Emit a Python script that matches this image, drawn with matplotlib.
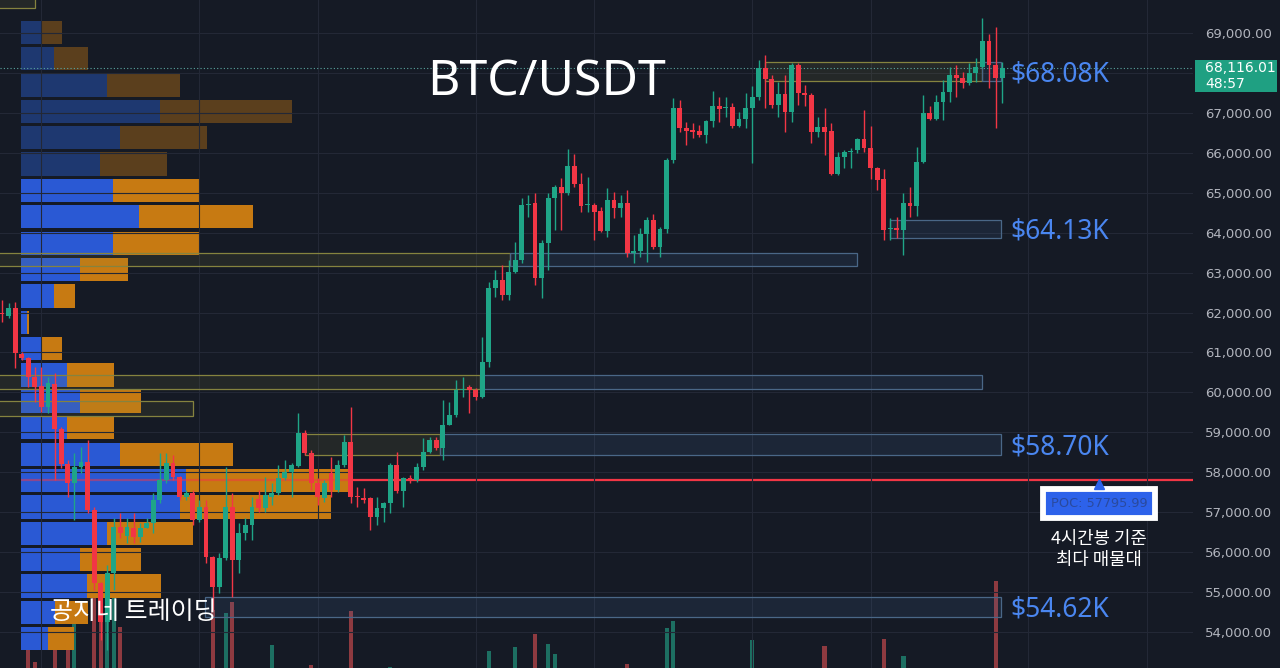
#!/usr/bin/env python
# BTC/USDT 4h candles + left volume profile, POC line and S/R zones (dark style)
import numpy as np, matplotlib; matplotlib.use("Agg")
import matplotlib.pyplot as plt
from matplotlib.patches import Rectangle

# ---- 4h candles ----
opens = [62000, 61910, 62110, 60960, 60860, 60390, 60160, 59640, 60210, 59080,
         58210, 57730, 58130, 58260, 57060, 55230, 54250, 55480, 56630, 56410,
         56610, 56380, 56610, 56730, 57310, 57810, 58230, 57880, 57380, 57480,
         56810, 57130, 55880, 55130, 55850, 57130, 55800, 56480, 56680, 57330,
         57110, 57380, 57480, 57860, 58010, 58160, 58980, 58480, 57730, 57360,
         57980, 57560, 58180, 58760, 57410, 57360, 57360, 56880, 57110, 57230,
         58180, 57530, 57860, 57810, 58130, 58510, 58810, 58610, 59180, 59440,
         60060, 60140, 60060, 59890, 60760, 62610, 62820, 62440, 63020, 63320,
         64690, 64740, 62870, 63740, 64870, 65140, 64990, 65670, 65220, 64690,
         64690, 64540, 64040, 64820, 64620, 64740, 63490, 63540, 63970, 64320,
         63640, 64090, 65820, 67120, 66620, 66570, 66550, 66450, 66800, 67170,
         67120, 67150, 66670, 66850, 67120, 67400, 68120, 67850, 67200, 67470,
         67020, 68200, 67500, 67450, 66520, 66650, 66550, 65470, 65900, 66020,
         66070, 66350, 66120, 65620, 65340, 64090, 64120, 64070, 64740, 64670,
         65770, 67000, 66850, 67270, 67520, 67950, 67870, 67750, 68000, 68150,
         68800, 68200, 67870]
highs = [62310, 62240, 62260, 61010, 60890, 60640, 60640, 60390, 60490, 59130,
         58310, 58480, 58630, 58810, 57130, 55250, 55680, 56860, 56980, 56860,
         56980, 56730, 56860, 57480, 58480, 58480, 58430, 57900, 57560, 57560,
         57310, 57310, 55900, 55980, 58130, 57480, 56730, 56860, 57380, 57560,
         57880, 57730, 58180, 58310, 58230, 59490, 59060, 58560, 57860, 57810,
         58380, 58310, 58930, 59640, 57630, 57610, 57380, 57380, 57250, 58230,
         58510, 57880, 57930, 58230, 58860, 58880, 58880, 59810, 59760, 60310,
         60390, 60190, 60110, 61390, 62770, 63070, 63190, 63320, 63770, 64870,
         64940, 64990, 63820, 64990, 65190, 65370, 66100, 65970, 65490, 65390,
         64740, 64640, 65120, 65020, 64940, 65070, 63940, 64120, 64390, 64470,
         64140, 65870, 67370, 67320, 66770, 66750, 66700, 66820, 67550, 67400,
         67400, 67250, 67020, 67500, 67670, 68320, 68450, 67950, 67770, 67950,
         68250, 68250, 67700, 67500, 66900, 67120, 66750, 66020, 66070, 66120,
         66370, 67070, 66670, 65640, 65590, 64370, 64390, 64990, 65140, 66150,
         67450, 67170, 67450, 67820, 68150, 68200, 68020, 68250, 68370, 69380,
         68980, 69150, 68270]
lows = [61760, 61860, 60610, 60810, 60140, 59760, 59510, 59490, 57810, 58110,
        57380, 56810, 57980, 56980, 55050, 53800, 53550, 55050, 56360, 56230,
        56230, 56260, 56600, 56480, 57230, 57730, 57810, 57310, 57310, 56680,
        56760, 55730, 54550, 54980, 55800, 54880, 55480, 56310, 56310, 57010,
        57000, 57180, 57430, 57810, 57380, 58130, 58430, 57560, 57180, 57260,
        57380, 57510, 58130, 57230, 57130, 57230, 56560, 56680, 56760, 56980,
        57480, 57130, 57730, 57760, 58060, 58480, 58560, 58310, 59180, 59390,
        59890, 59490, 59810, 59860, 60640, 62390, 62310, 62310, 62990, 63240,
        64390, 62690, 62360, 63070, 64070, 64070, 64940, 65140, 64520, 64520,
        63820, 64020, 63890, 64370, 64390, 63390, 63240, 63390, 63270, 63590,
        63390, 63990, 65750, 66520, 66200, 66370, 66400, 66250, 66650, 66770,
        66900, 66620, 66650, 66620, 65750, 67320, 67120, 67120, 66900, 66520,
        66770, 67200, 67170, 66250, 66400, 65950, 65440, 65440, 65620, 65620,
        66000, 66020, 65350, 65070, 63820, 63820, 63870, 63440, 64390, 64420,
        65750, 66820, 66820, 66820, 67270, 67400, 67620, 67700, 67770, 68120,
        67620, 66620, 67250]
closes = [61960, 62110, 60990, 60860, 60390, 60140, 59640, 60240, 59080, 58210,
          57730, 58130, 58260, 57060, 55230, 54250, 55480, 56630, 56480, 56630,
          56380, 56610, 56730, 57310, 57810, 58230, 57880, 57380, 57480, 56810,
          57130, 55880, 55130, 55850, 57130, 55800, 56480, 56680, 57130, 57110,
          57430, 57480, 57860, 58010, 58180, 58980, 58480, 57730, 57380, 57730,
          57560, 58180, 58760, 57380, 57380, 57310, 56880, 57110, 57230, 58180,
          57530, 57860, 57810, 58130, 58510, 58810, 58610, 59180, 59440, 60060,
          60090, 60060, 59890, 60760, 62610, 62820, 62440, 63020, 63320, 64690,
          64720, 62870, 63740, 64870, 65140, 64990, 65670, 65220, 64670, 64700,
          64520, 64040, 64820, 64620, 64740, 63490, 63540, 63970, 64320, 63640,
          64090, 65820, 67120, 66620, 66550, 66520, 66450, 66800, 67170, 67100,
          67130, 66670, 66850, 67120, 67400, 68120, 67850, 67200, 67470, 67020,
          68200, 67500, 67450, 66520, 66650, 66520, 65470, 65900, 66020, 66030,
          66350, 66120, 65620, 65320, 64070, 64120, 64070, 64740, 64670, 65770,
          67000, 66850, 67270, 67520, 67950, 67870, 67750, 68000, 68150, 68800,
          68200, 67870, 68116.01]
last_price = 68116.01
countdown = "48:57"

# volume bars tall enough to show at the bottom edge (candle index, height)
vol_idx = [4, 5, 8, 10, 11, 14, 15, 16, 17, 18, 32, 34, 35, 41, 47, 53, 59, 74,
           78, 81, 83, 84, 95, 101, 102, 114, 125, 134, 137, 151]
vol_val = [55, 38, 60, 55, 80, 130, 120, 115, 110, 73, 90, 87, 98, 55, 35, 89, 33, 49,
           53, 66, 56, 46, 36, 72, 79, 60, 54, 61, 44, 119]

# volume profile on the left, rows from the top down
prof_top, prof_step = 69351, 660.5
prof_buy = [20, 33, 86, 139, 99, 79, 92, 118, 92, 59, 33, 6,
            20, 46, 59, 46, 99, 165, 159, 86, 59, 66, 34, 27]
prof_sell = [21, 34, 73, 132, 87, 67, 87, 114, 87, 48, 21, 2,
             21, 47, 61, 47, 113, 165, 151, 86, 61, 74, 33, 26]
prof_in_va = [False] * 6 + [True] * 18
poc = 57795.99

# zones: start / end candle index, low / high price, kind
zone_start = [-1, -1, 77.2, 116.0, 149.0, 135.0, -1, 72.6, -1, 46.0, 66.6, 30.9]
zone_end = [5.0, 77.2, 129.9, 149.0, 151.8, 151.8, 72.6, 149.0, 29.0, 66.6, 151.8, 151.8]
zone_low = [69620, 63165, 63165, 67798, 67798, 63867, 60085, 60085, 59410, 58433, 58433, 54377]
zone_high = [69950, 63491, 63491, 68274, 68274, 64317, 60436, 60436, 59785, 58959, 58959, 54877]
zone_kind = ["o", "o", "b", "o", "b", "b", "o", "b", "o", "o", "b", "b"]

level_prices = [67960, 64020, 58620, 54550]
level_texts = ["$68.08K", "$64.13K", "$58.70K", "$54.62K"]

price_ticks = [53000, 54000, 55000, 56000, 57000, 58000, 59000, 60000, 61000,
               62000, 63000, 64000, 65000, 66000, 67000, 68000, 69000]
vgrid_idx = [6, 30, 48, 72, 90, 114, 132, 156, 174]

BG = "#151a25"; UP = "#1fa587"; DN = "#f23645"
KR = ["Noto Sans CJK KR", "DejaVu Sans"]
fig = plt.figure(figsize=(12.8, 6.68), dpi=100, facecolor=BG)
rect = [0, -32 / 668, 1193 / 1280, 700 / 668]
XLIM = (-0.3, 181.0); YLIM = (52296, 69826)

o = np.array(opens, float); c = np.array(closes, float)
up = c >= o

# volume (bottom layer)
axv = fig.add_axes(rect, zorder=0); axv.set_axis_off()
axv.bar(vol_idx, vol_val, width=0.62,
        color=["#1d6f62" if up[i] else "#8e3a40" for i in vol_idx])
axv.set_xlim(XLIM); axv.set_ylim(0, 700)

# volume profile
axp = fig.add_axes(rect, zorder=1); axp.set_axis_off()
mids = prof_top - prof_step * (np.arange(len(prof_buy)) + 0.5)
axp.barh(mids, prof_buy, height=prof_step * 0.88,
         color=["#2a59d4" if v else "#1e3870" for v in prof_in_va])
axp.barh(mids, prof_sell, left=prof_buy, height=prof_step * 0.88,
         color=["#c77a12" if v else "#5b3f1d" for v in prof_in_va])
axp.set_xlim(-21, 1172); axp.set_ylim(YLIM)
pend = max(b + s for b, s in zip(prof_buy, prof_sell))
axp.hlines(poc, 0, pend, color=DN, lw=1.6, alpha=0.5)
axp.hlines(poc, pend, 1172, color=DN, lw=1.6)

# main price axes
ax = fig.add_axes(rect, zorder=2); ax.set_facecolor("none")
ax.set_xlim(XLIM); ax.set_ylim(YLIM)
for s in ax.spines.values(): s.set_visible(False)
ax.set_yticks(price_ticks)
# the 68,000 label sits under the live price tag
ax.set_yticklabels(["" if abs(p - last_price) < 500 else f"{p:,.2f}" for p in price_ticks])
ax.yaxis.tick_right()
ax.tick_params(axis="y", length=0, pad=8.6, labelsize=9.5, labelcolor="#b2b5be")
ax.set_xticks(vgrid_idx); ax.tick_params(axis="x", length=0, labelbottom=False)
ax.grid(True, color="#232836", lw=0.8); ax.set_axisbelow(True)

zst = {"o": ((0.55, 0.55, 0.25, 0.13), "#85833f"), "b": ((0.30, 0.45, 0.65, 0.14), "#4a6787")}
for s, e, lo, hi, k in zip(zone_start, zone_end, zone_low, zone_high, zone_kind):
    ax.add_patch(Rectangle((s, lo), e - s, hi - lo, facecolor=zst[k][0],
                           edgecolor=zst[k][1], lw=0.9, zorder=1.5))

idx = np.arange(len(opens)); col = np.where(up, UP, DN)
ax.vlines(idx, lows, highs, colors=col, lw=1.0, zorder=3)
ax.bar(idx, np.maximum(np.abs(c - o), 30), bottom=np.minimum(o, c), width=0.74,
       color=col, zorder=4)
ax.axhline(last_price, color="#5aa7a0", lw=0.8, ls=(0, (1, 2)), zorder=2)

for p, t in zip(level_prices, level_texts):
    ax.text(153.2, p, t, color="#4a86f0", fontsize=19, family="Noto Sans",
            va="center", ha="left", zorder=6)

# POC tag
px = 166.7
ax.annotate(f"POC: {poc:.2f}", (px, poc), xytext=(0, -16.8), textcoords="offset points",
            ha="center", va="center", fontsize=9.3, color="#2a4a9e", zorder=8,
            bbox=dict(boxstyle="square,pad=0.62", fc="#2d62ea", ec="white", lw=4.2))
ax.plot([px], [poc - 100], marker="^", ms=7, color="#2d62ea", zorder=9)
ax.annotate("4시간봉 기준", (px, poc), xytext=(0, -42.5), textcoords="offset points",
            ha="center", va="center", fontsize=12.8, color="white", family=KR, zorder=8)
ax.annotate("최다 매물대", (px, poc), xytext=(0, -57), textcoords="offset points",
            ha="center", va="center", fontsize=12.8, color="white", family=KR, zorder=8)

# current price tag on the axis
fig.add_artist(Rectangle((1195 / 1280, 1 - 92 / 668), 82 / 1280, 32 / 668,
                         transform=fig.transFigure, fc="#1fa082", ec="none", zorder=10))
fig.text(1205 / 1280, 1 - 68 / 668, f"{last_price:,.2f}", color="white", fontsize=10,
         va="center", ha="left", zorder=11)
fig.text(1205 / 1280, 1 - 84 / 668, countdown, color="white", fontsize=10,
         va="center", ha="left", zorder=11)

fig.text(547 / 1280, 1 - 82 / 668, "BTC/USDT", color="white", fontsize=36,
         family="Noto Sans", weight="medium", ha="center", va="center", zorder=11)
fig.text(50 / 1280, 1 - 612 / 668, "공지네 트레이딩", color="white", fontsize=18,
         family=KR, weight="medium", ha="left", va="center", zorder=11)

plt.savefig("out.png", dpi=100, facecolor=BG)
